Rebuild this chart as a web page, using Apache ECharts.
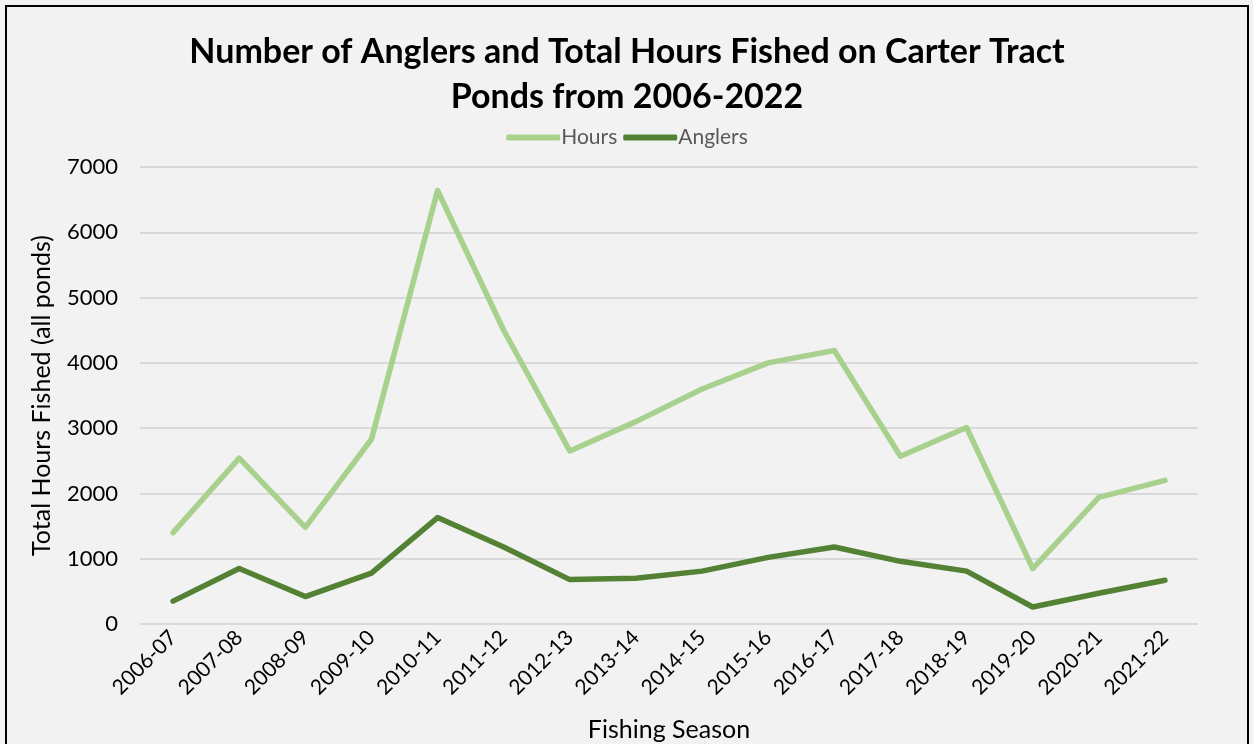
<!DOCTYPE html>
<html>
<head>
<meta charset="utf-8">
<script src="https://cdn.jsdelivr.net/npm/echarts@6/dist/echarts.min.js"></script>
<style>
  html, body { margin: 0; padding: 0; background: #f2f2f2; }
  #chart {
    position: absolute; left: 5px; top: 5px;
    width: 1244px; height: 745px;
    border: 2px solid #000; box-sizing: border-box;
  }
</style>
</head>
<body>
<div id="chart"></div>
<script>
// 渔季
const seasons = ['2006-07', '2007-08', '2008-09', '2009-10', '2010-11', '2011-12', '2012-13', '2013-14',
  '2014-15', '2015-16', '2016-17', '2017-18', '2018-19', '2019-20', '2020-21', '2021-22']
// 总钓鱼时数
const hours = [1400, 2540, 1480, 2830, 6640, 4500, 2650, 3100, 3600, 4000, 4190, 2570, 3010, 850, 1940, 2200]
// 钓鱼人数
const anglers = [350, 850, 420, 780, 1630, 1180, 680, 700, 810, 1020, 1180, 960, 810, 260, 470, 670]

const font = 'Lato, "Open Sans", sans-serif'
const chart = echarts.init(document.getElementById('chart'))

const option = {
  backgroundColor: '#f2f2f2',
  textStyle: { fontFamily: font },
  title: {
    text: 'Number of Anglers and Total Hours Fished on Carter Tract\nPonds from 2006-2022',
    left: 'center',
    top: 18,
    textStyle: { fontFamily: font, fontSize: 34, fontWeight: 'bold', color: '#000', lineHeight: 45 }
  },
  legend: {
    top: 115,
    left: 'center',
    itemWidth: 54,
    itemHeight: 6,
    itemGap: 6,
    icon: 'roundRect',
    textStyle: { fontFamily: font, fontSize: 21, color: '#595959', padding: [0, 0, 0, -4] },
    data: ['Hours', 'Anglers']
  },
  grid: { left: 133, right: 49, top: 160, bottom: 124 },
  xAxis: {
    type: 'category',
    data: seasons,
    name: 'Fishing Season',
    nameLocation: 'middle',
    nameGap: 93,
    nameTextStyle: { fontFamily: font, fontSize: 25, color: '#000' },
    axisLine: { show: false },
    axisTick: { show: false },
    axisLabel: { rotate: 45, fontFamily: font, fontSize: 21, color: '#000', margin: 10 }
  },
  yAxis: {
    type: 'value',
    min: 0,
    max: 7000,
    interval: 1000,
    name: 'Total Hours Fished (all ponds)',
    nameLocation: 'middle',
    nameGap: 86,
    nameTextStyle: { fontFamily: font, fontSize: 25, color: '#000' },
    axisLabel: { fontFamily: font, fontSize: 22, color: '#000', margin: 22, formatter: v => String(v) },
    splitLine: { lineStyle: { color: '#d9d9d9', width: 2 } }
  },
  series: [
    {
      name: 'Hours',
      type: 'line',
      data: hours,
      symbol: 'none',
      color: '#a9d18e',
      lineStyle: { width: 5.5, color: '#a9d18e', cap: 'round', join: 'round' }
    },
    {
      name: 'Anglers',
      type: 'line',
      data: anglers,
      symbol: 'none',
      color: '#548235',
      lineStyle: { width: 5.5, color: '#548235', cap: 'round', join: 'round' }
    }
  ]
}

chart.setOption(option)
</script>
</body>
</html>
